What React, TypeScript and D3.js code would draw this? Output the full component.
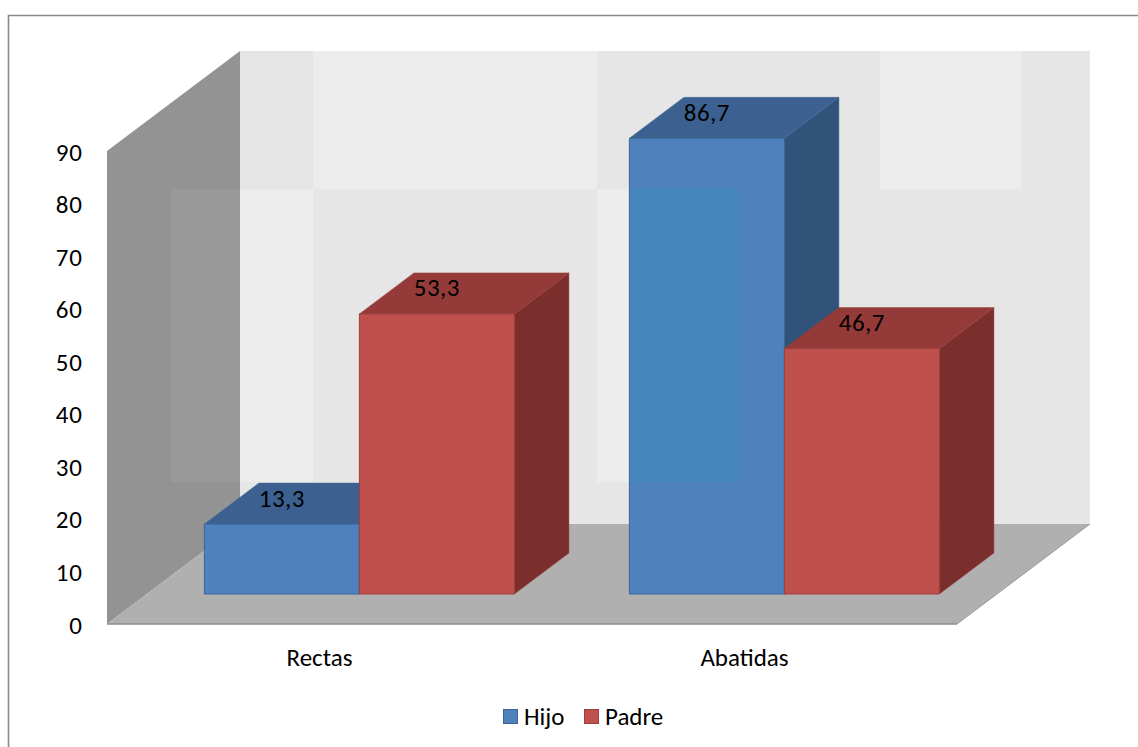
import React from 'react';
import * as d3 from 'd3';

// ---- data ----
const categories = ['Rectas', 'Abatidas'];
const seriesNames = ['Hijo', 'Padre'];
const hijoValues = [13.3, 86.7];
const padreValues = [53.3, 46.7];
const yTicks = [0, 10, 20, 30, 40, 50, 60, 70, 80, 90];

// ---- layout ----
const W = 1138;
const H = 747;
const FONT = "Carlito, Calibri, Lato, 'Open Sans', sans-serif";
const FS = 25;

const plotLeft = 107;
const plotRight = 957;
const yBottom = 624;
const yTop = 151;
// oblique projection of the depth axis (z = 0 front, z = 1 back wall)
const depthDX = 133;
const depthDY = -100;
const barZ0 = 0.3;
const barZ1 = 0.71;

const palette: Record<string, { front: string; top: string; side: string; edge: string }> = {
  Hijo: { front: '#4f81bd', top: '#3c6190', side: '#325379', edge: '#3b6597' },
  Padre: { front: '#c0504d', top: '#943a38', side: '#7a2f2d', edge: '#9c3f3c' },
};

const xBand = d3.scaleBand<string>().domain(categories).range([plotLeft, plotRight]);
const xSeries = d3
  .scaleBand<string>()
  .domain(seriesNames)
  .range([0, xBand.bandwidth()])
  .paddingInner(0)
  .paddingOuter(0.371);
const yScale = d3.scaleLinear().domain([0, 90]).range([yBottom, yTop]);

const commaLocale = d3.formatLocale({ decimal: ',', thousands: '.', grouping: [3], currency: ['', ''] });
const fmt = commaLocale.format('.1f');

const proj = (px: number, v: number, z: number): [number, number] => [
  px + z * depthDX,
  yScale(v) + z * depthDY,
];
const poly = (pts: [number, number][]) => 'M' + pts.map((p) => p.join(',')).join('L') + 'Z';

// back wall shading panels (x0, x1, y0, y1, fill)
const wallX0 = plotLeft + depthDX;
const wallX1 = plotRight + depthDX;
const wallY0 = yTop + depthDY;
const wallY1 = yBottom + depthDY;
const wallPanels: [number, number, number, number, string][] = [
  [wallX0, 313, wallY0, 189, '#e5e5e5'],
  [313, 597, wallY0, 189, '#ececec'],
  [597, 880, wallY0, 189, '#e6e6e6'],
  [880, 1022, wallY0, 189, '#ececec'],
  [1022, wallX1, wallY0, 189, '#e6e6e6'],
];
// lighter inset patches
const insetPanels: [number, number, number, number, string][] = [
  [171, wallX0, 189, 482, '#999999'],
  [wallX0, 313, 189, 482, '#ececec'],
  [597, 738, 189, 482, '#ececec'],
];

type Bar = { cat: string; series: string; value: number };
const bars: Bar[] = [];
categories.forEach((c, i) => {
  bars.push({ cat: c, series: 'Hijo', value: hijoValues[i] });
  bars.push({ cat: c, series: 'Padre', value: padreValues[i] });
});

export default function App() {
  const legendItems = seriesNames;
  const hijoAbatidas = bars.find((b) => b.cat === 'Abatidas' && b.series === 'Hijo')!;
  const haX0 = (xBand('Abatidas') as number) + (xSeries('Hijo') as number) + barZ0 * depthDX;
  const haTop = proj(0, hijoAbatidas.value, barZ0)[1];

  return (
    <svg
      width={W}
      height={H}
      viewBox={`0 0 ${W} ${H}`}
      style={{ position: 'absolute', left: 0, top: 0, background: '#fff' }}
      fontFamily={FONT}
    >
      <rect x={0} y={0} width={W} height={H} fill="#fff" />
      {/* outer frame */}
      <path d={`M8.5,${H} V15.5 H${W}`} fill="none" stroke="#8a8a8a" strokeWidth={1.6} />

      {/* back wall */}
      <rect x={wallX0} y={wallY0} width={wallX1 - wallX0} height={wallY1 - wallY0} fill="#e6e6e6" />
      {wallPanels.map(([x0, x1, y0, y1, f], i) => (
        <rect key={'wp' + i} x={x0} y={y0} width={x1 - x0} height={y1 - y0} fill={f} />
      ))}

      {/* side wall */}
      <path
        d={poly([
          [plotLeft, yScale(0)],
          [plotLeft, yScale(90)],
          proj(plotLeft, 90, 1),
          proj(plotLeft, 0, 1),
        ])}
        fill="#939393"
      />
      {insetPanels.map(([x0, x1, y0, y1, f], i) => (
        <rect key={'ip' + i} x={x0} y={y0} width={x1 - x0} height={y1 - y0} fill={f} />
      ))}

      {/* floor */}
      <path
        d={poly([
          proj(plotLeft, 0, 0),
          proj(plotRight, 0, 0),
          proj(plotRight, 0, 1),
          proj(plotLeft, 0, 1),
        ])}
        fill="#b0b0b0"
      />
      <line
        x1={plotLeft}
        x2={plotRight}
        y1={yScale(0)}
        y2={yScale(0)}
        stroke="#8c8c8c"
        strokeWidth={1.5}
      />
      <line
        x1={plotRight}
        y1={yScale(0)}
        x2={plotRight + depthDX}
        y2={yScale(0) + depthDY}
        stroke="#9a9a9a"
        strokeWidth={1}
      />

      {/* bars */}
      {bars.map((b, i) => {
        const c = palette[b.series];
        const x0 = (xBand(b.cat) as number) + (xSeries(b.series) as number);
        const x1 = x0 + xSeries.bandwidth();
        const front = poly([proj(x0, 0, barZ0), proj(x1, 0, barZ0), proj(x1, b.value, barZ0), proj(x0, b.value, barZ0)]);
        const top = poly([proj(x0, b.value, barZ0), proj(x1, b.value, barZ0), proj(x1, b.value, barZ1), proj(x0, b.value, barZ1)]);
        const side = poly([proj(x1, 0, barZ0), proj(x1, 0, barZ1), proj(x1, b.value, barZ1), proj(x1, b.value, barZ0)]);
        return (
          <g key={'bar' + i}>
            <path d={side} fill={c.side} stroke={c.edge} strokeWidth={0.8} strokeOpacity={0.6} />
            <path d={top} fill={c.top} stroke={c.edge} strokeWidth={0.8} strokeOpacity={0.6} />
            <path d={front} fill={c.front} stroke={c.edge} strokeWidth={1} />
          </g>
        );
      })}

      {/* lighter inset patch crossing the tall bar */}
      <rect x={haX0 + 1} y={Math.max(189, haTop + 1)} width={738 - haX0 - 1} height={482 - Math.max(189, haTop + 1)} fill="#4387bb" />

      {/* value labels */}
      {bars.map((b, i) => {
        const x0 = (xBand(b.cat) as number) + (xSeries(b.series) as number);
        const cx = x0 + xSeries.bandwidth() / 2 + barZ0 * depthDX;
        const cy = proj(0, b.value, barZ0)[1] - 26;
        return (
          <text
            key={'lbl' + i}
            x={cx}
            y={cy}
            textAnchor="middle"
            dominantBaseline="central"
            fontSize={FS}
            letterSpacing={0.5}
            fill="#000"
          >
            {fmt(b.value)}
          </text>
        );
      })}

      {/* y axis labels */}
      {yTicks.map((t) => (
        <text
          key={'yt' + t}
          x={83}
          y={yScale(t) + 1}
          textAnchor="end"
          dominantBaseline="central"
          fontSize={FS}
          letterSpacing={1}
          fill="#000"
        >
          {t}
        </text>
      ))}

      {/* category labels */}
      {categories.map((c) => (
        <text
          key={'cat' + c}
          x={(xBand(c) as number) + xBand.bandwidth() / 2}
          y={657}
          textAnchor="middle"
          dominantBaseline="central"
          fontSize={FS}
          fill="#000"
        >
          {c}
        </text>
      ))}

      {/* legend */}
      <g>
        {legendItems.map((s, i) => {
          const lx = i === 0 ? 503 : 584;
          const c = palette[s];
          return (
            <g key={'lg' + s}>
              <rect x={lx + 0.5} y={709.5} width={14} height={14} fill={c.front} stroke={c.edge} strokeWidth={1} />
              <text x={lx + 21} y={716.5} dominantBaseline="central" fontSize={FS} fill="#000">
                {s}
              </text>
            </g>
          );
        })}
      </g>
    </svg>
  );
}
